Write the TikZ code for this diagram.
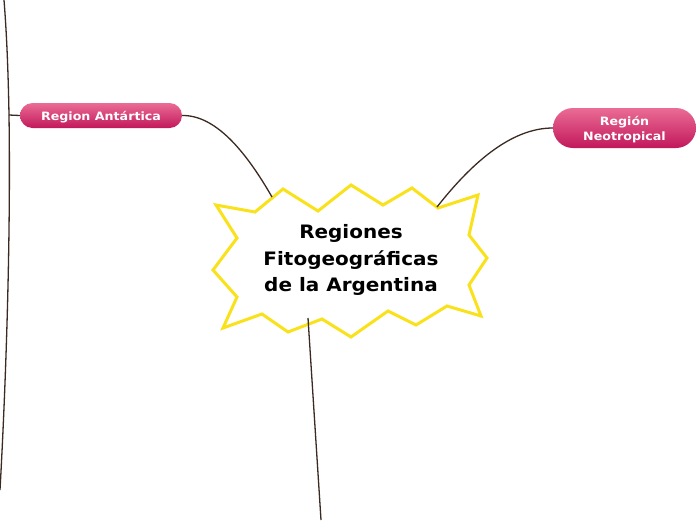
\documentclass[tikz,border=0pt]{standalone}
\usepackage{fontspec}
\setmainfont{DejaVu Sans}
\newfontfamily\widefont[FakeStretch=1.08]{DejaVu Sans}
\newfontfamily\pillfont[FakeStretch=1.1]{DejaVu Sans}
\usetikzlibrary{shapes.misc}
\definecolor{linkc}{HTML}{3A2A22}
\definecolor{pilltop}{HTML}{EA6C95}
\definecolor{pillbot}{HTML}{C2185B}
\definecolor{staryel}{HTML}{F9E21B}
\tikzset{
  pill/.style={rounded rectangle, draw=none, top color=pilltop, bottom color=pillbot, inner sep=0pt},
  pilltext/.style={text=white, font=\pillfont\bfseries\fontsize{11.5}{15}\selectfont, align=center, inner sep=0pt},
  link/.style={draw=linkc, line width=1.3pt},
  star/.style={draw=staryel, fill=white, line width=3pt, line join=miter},
}
\begin{document}
\begin{tikzpicture}[x=1pt,y=-1pt]
\useasboundingbox (0,0) rectangle (696,520);
% coordinates
\coordinate (topend) at (4,0);
\coordinate (botend) at (0,490);
\coordinate (junc) at (9,115);
\coordinate (bottomend) at (321,520);
% starburst
\draw[star] (216,205) -- (255,212) -- (283,189) -- (318,211) -- (351,185) -- (383,205)
 -- (412,188) -- (438,208) -- (478,195) -- (469,235) -- (487,258) -- (469,285)
 -- (481,316) -- (447,306) -- (416,325) -- (388,311) -- (351,337) -- (322,319)
 -- (288,332) -- (262,314) -- (223,328) -- (237,297) -- (213,270) -- (237,238) -- cycle;
\coordinate (starNW) at (272,197);
\coordinate (starNE) at (437,207);
\coordinate (starS) at (308,318);
\node[font=\widefont\bfseries\fontsize{18.5}{26.5}\selectfont, align=center] (central) at (351,260)
 {Regiones\\Fitogeográficas\\de la Argentina};
% pills
\node[pill, minimum width=162pt, minimum height=25pt] (antar) at (101,115.5) {};
\node[pilltext] (antarlabel) at (101,117) {Region Antártica};
\node[pill, minimum width=143pt, minimum height=40pt] (neo) at (624.5,128) {};
\node[pilltext] (neolabel) at (624.5,129.5) {Región\\Neotropical};
% connectors
\draw[link] (antar.west) -- (junc);
\draw[link] (junc) .. controls (8,60) and (6,25) .. (topend);
\draw[link] (junc) .. controls (11,250) and (5,400) .. (botend);
\draw[link] (antar.east) .. controls (215,115) and (245,150) .. (starNW);
\draw[link] (starNE) .. controls (470,165) and (510,128) .. (neo.west);
\draw[link] (starS) -- (bottomend);
\end{tikzpicture}
\end{document}
